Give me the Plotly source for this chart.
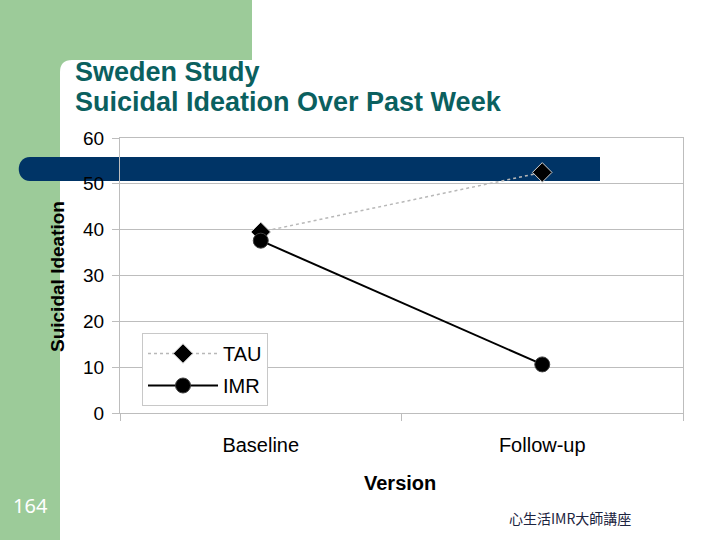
import plotly.graph_objects as go

# ---- data ----
versions = ["Baseline", "Follow-up"]
tau_values = [39.5, 52.5]
imr_values = [37.6, 10.6]
y_ticks = [0, 10, 20, 30, 40, 50, 60]

# ---- geometry helpers (pixel -> paper) ----
W, H = 720, 540
ML, MR, MT, MB = 120, 37, 138, 127
PW, PH = W - ML - MR, H - MT - MB


def px(x):
    return (x - ML) / PW


def py(y):
    return (H - MB - y) / PH


FONT = "Liberation Sans, Arial, sans-serif"

fig = go.Figure()
fig.add_trace(go.Scatter(
    x=versions, y=tau_values, name="TAU", legendgroup="tau",
    mode="lines+markers",
    line=dict(color="#b8b8b8", width=1.5, dash="dot"),
    marker=dict(symbol="diamond", size=15, color="black",
                line=dict(color="#d0d0d0", width=1)),
))
fig.add_trace(go.Scatter(
    x=versions, y=imr_values, name="IMR", legendgroup="imr",
    mode="lines+markers",
    line=dict(color="black", width=2),
    marker=dict(symbol="circle", size=15, color="black",
                line=dict(color="#404040", width=1)),
))

# green L-shaped background with rounded inner corner
g = "#9ccb99"
path = (f"M {px(0)},{py(0)} L {px(252)},{py(0)} L {px(252)},{py(60)} "
        f"L {px(72)},{py(60)} Q {px(60)},{py(60)} {px(60)},{py(72)} "
        f"L {px(60)},{py(540)} L {px(0)},{py(540)} Z")
shapes = [
    dict(type="path", xref="paper", yref="paper", path=path,
         fillcolor=g, line=dict(width=0), layer="below"),
]
# dark blue bar with rounded left end
r = 12
bx0, bx1, by0, by1 = 18, 600, 157, 181
bar = (f"M {px(bx0 + r)},{py(by0)} L {px(bx1)},{py(by0)} L {px(bx1)},{py(by1)} "
       f"L {px(bx0 + r)},{py(by1)} "
       f"C {px(bx0 - 3)},{py(by1)} {px(bx0 - 3)},{py(by0)} {px(bx0 + r)},{py(by0)} Z")
shapes.append(dict(type="path", xref="paper", yref="paper", path=bar,
                   fillcolor="#003466", line=dict(width=0), layer="below"))

teal = "#0a605f"
annotations = [
    dict(text="<b>Sweden Study</b>", x=px(73), y=py(72), xref="paper", yref="paper",
         xanchor="left", yanchor="middle", showarrow=False,
         font=dict(family=FONT, size=27, color=teal)),
    dict(text="<b>Suicidal Ideation Over Past Week</b>", x=px(73), y=py(102),
         xref="paper", yref="paper", xanchor="left", yanchor="middle", showarrow=False,
         font=dict(family=FONT, size=27, color=teal)),
    dict(text="<b>Suicidal Ideation</b>", x=px(57), y=py(277), xref="paper", yref="paper",
         xanchor="center", yanchor="middle", textangle=-90, showarrow=False,
         font=dict(family=FONT, size=19, color="black")),
    dict(text="<b>Version</b>", x=px(400), y=py(483), xref="paper", yref="paper",
         xanchor="center", yanchor="middle", showarrow=False,
         font=dict(family=FONT, size=20, color="black")),
    dict(text="164", x=px(30), y=py(505), xref="paper", yref="paper",
         xanchor="center", yanchor="middle", showarrow=False,
         font=dict(family="Noto Sans, sans-serif", size=20, color="white")),
    dict(text="心生活IMR大師講座", x=px(570), y=py(518), xref="paper", yref="paper",
         xanchor="center", yanchor="middle", showarrow=False,
         font=dict(family="Noto Sans CJK TC, sans-serif", size=14, color="#1c2440")),
]

grid = "#bdbdbd"
fig.update_layout(
    width=W, height=H,
    margin=dict(l=ML, r=MR, t=MT, b=MB, pad=0),
    paper_bgcolor="white", plot_bgcolor="rgba(0,0,0,0)",
    font=dict(family=FONT, size=19, color="black"),
    shapes=shapes, annotations=annotations,
    showlegend=True,
    legend=dict(x=px(142), y=py(333), xanchor="left", yanchor="top",
                bgcolor="white", bordercolor="#c8c8c8", borderwidth=1,
                font=dict(family=FONT, size=20, color="black"),
                tracegroupgap=3, itemwidth=70),
    xaxis=dict(type="category", range=[-0.5, 1.5], showgrid=False,
               showline=True, linecolor=grid, linewidth=1, mirror=True,
               ticks="outside", tickson="boundaries", ticklen=7, tickcolor=grid,
               ticklabelstandoff=14, tickfont=dict(size=20), zeroline=False),
    yaxis=dict(range=[0, 60], tickvals=y_ticks, showgrid=True, gridcolor=grid,
               gridwidth=1, showline=True, linecolor=grid, linewidth=1, mirror=True,
               ticks="outside", ticklen=7, tickcolor=grid, ticklabelstandoff=4,
               tickfont=dict(size=19), zeroline=False),
)

fig.write_html("out.html", config={"displayModeBar": False},
               post_script="document.body.style.margin='0';")
